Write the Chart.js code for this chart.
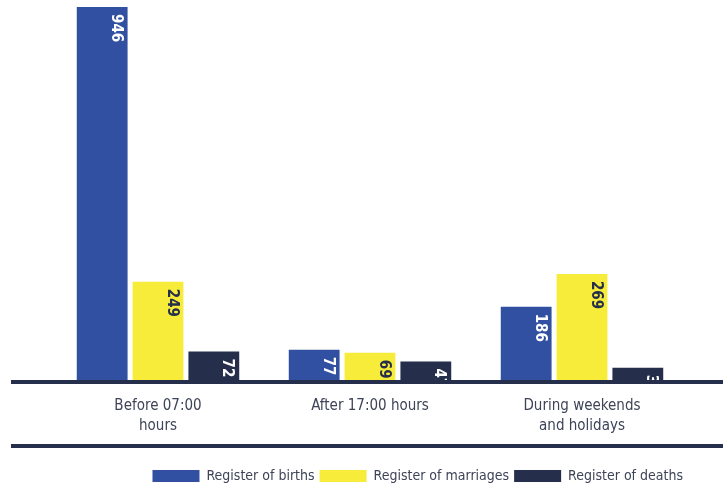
<!DOCTYPE html>
<html>
<head>
<meta charset="utf-8">
<script src="https://cdn.jsdelivr.net/npm/chart.js@4"></script>
<style>
  html, body { margin: 0; padding: 0; background: #fff; }
  #wrap { width: 723px; height: 488px; }
</style>
</head>
<body>
<div id="wrap"><canvas id="chart"></canvas></div>
<script>
// data
const categories = [['Before 07:00', 'hours'], 'After 17:00 hours', ['During weekends', 'and holidays']];
const seriesNames = ['Register of births', 'Register of marriages', 'Register of deaths'];
const births = [946, 77, 186];
const marriages = [249, 69, 269];
const deaths = [72, 47, 31];

const blue = '#3150a1';
const yellow = '#f8ec3a';
const navy = '#252f4b';
const textColor = '#3d4457';
const fontFamily = "'DejaVu Sans Condensed', 'Roboto', sans-serif";

// values written inside the bars, then the axis lines on top
const barLabels = {
    id: 'barLabels',
    afterDatasetsDraw(chart) {
        const ctx = chart.ctx;
        const zeroY = chart.scales.y.getPixelForValue(0);
        ctx.save();
        ctx.beginPath();
        ctx.rect(0, 0, chart.width, zeroY);
        ctx.clip();
        ctx.font = 'bold 15px ' + fontFamily;
        ctx.textAlign = 'left';
        ctx.textBaseline = 'middle';
        chart.data.datasets.forEach((ds, i) => {
            const meta = chart.getDatasetMeta(i);
            meta.data.forEach((bar, j) => {
                ctx.save();
                ctx.translate(bar.x + bar.width / 2 - 12, bar.y + 7);
                ctx.rotate(Math.PI / 2);
                ctx.fillStyle = ds.backgroundColor === yellow ? navy : '#ffffff';
                ctx.fillText(String(ds.data[j]), 0, 0);
                ctx.restore();
            });
        });
        ctx.restore();
        // axis line and bottom rule
        ctx.save();
        ctx.fillStyle = navy;
        ctx.fillRect(11, zeroY, chart.width - 11, 4);
        ctx.fillRect(11, 444, chart.width - 11, 4);
        ctx.restore();
    }
};

new Chart(document.getElementById('chart'), {
    type: 'bar',
    data: {
        labels: categories,
        datasets: [
            { label: seriesNames[0], data: births, backgroundColor: blue },
            { label: seriesNames[1], data: marriages, backgroundColor: yellow },
            { label: seriesNames[2], data: deaths, backgroundColor: navy }
        ]
    },
    options: {
        responsive: true,
        maintainAspectRatio: false,
        animation: false,
        layout: { padding: { top: 7, left: 52, right: 35, bottom: -5 } },
        categoryPercentage: 0.79,
        barPercentage: 0.91,
        scales: {
            x: {
                grid: { display: false, drawTicks: false },
                border: { display: false },
                ticks: {
                    color: textColor,
                    padding: 16,
                    font: { family: fontFamily, size: 15, lineHeight: 1.33 }
                },
                afterFit(scale) { scale.height = 84; }
            },
            y: {
                display: false,
                min: 0,
                max: 946,
                grid: { display: false }
            }
        },
        plugins: {
            tooltip: { enabled: false },
            legend: {
                position: 'bottom',
                align: 'end',
                labels: {
                    color: textColor,
                    boxWidth: 47,
                    boxHeight: 12,
                    padding: 5,
                    font: { family: fontFamily, size: 14 }
                }
            }
        }
    },
    plugins: [barLabels]
});
</script>
</body>
</html>
